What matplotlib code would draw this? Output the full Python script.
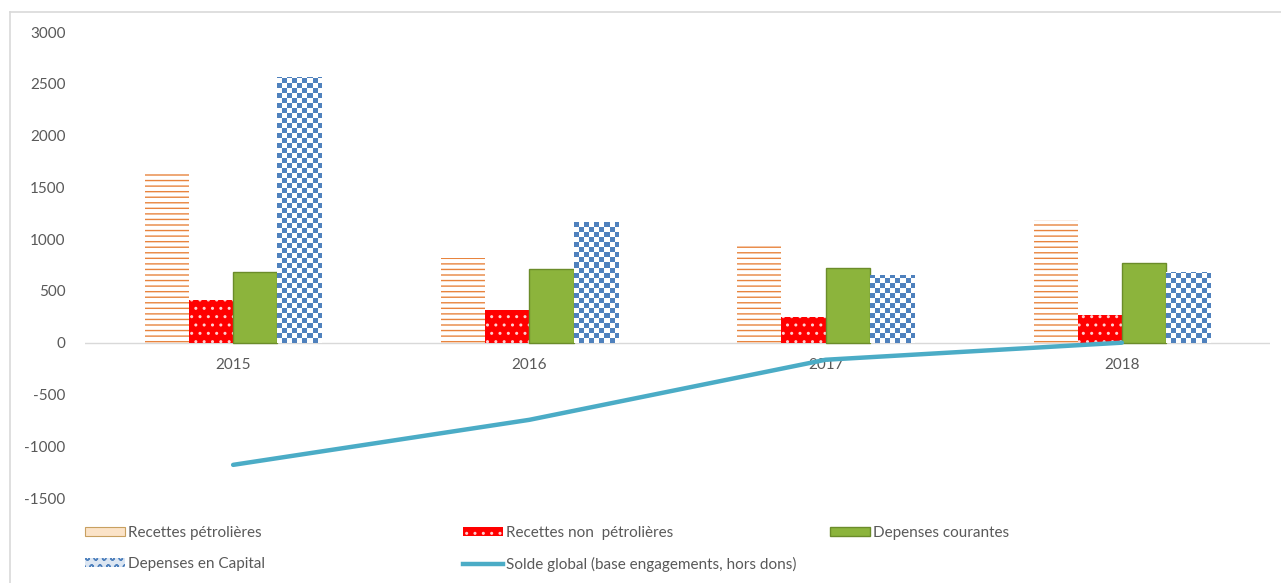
import numpy as np
import matplotlib
matplotlib.use("Agg")
import matplotlib.pyplot as plt
from matplotlib.patches import Patch
from matplotlib.lines import Line2D

plt.rcParams['font.family'] = ['Lato', 'DejaVu Sans']
plt.rcParams['hatch.linewidth'] = 1.0
plt.rcParams['axes.unicode_minus'] = False

years = ['2015', '2016', '2017', '2018']
recettes_petrol = [1660, 815, 965, 1185]
recettes_non_petrol = [415, 320, 245, 270]
depenses_courantes = [685, 715, 725, 765]
depenses_capital = [2567, 1170, 655, 685]
solde_global = [-1180, -745, -165, 0]

labels = ['Recettes pétrolières', 'Recettes non  pétrolières', 'Depenses courantes',
          'Depenses en Capital', 'Solde global (base engagements, hors dons)']

W, H = 1281, 583
fig = plt.figure(figsize=(W / 100, H / 100), dpi=100)
ax = fig.add_axes([85 / W, (H - 498) / H, (1270 - 85) / W, (498 - 32) / H])

x = np.arange(len(years))
bw = 0.149
offs = np.array([-1.5, -0.5, 0.5, 1.5]) * bw

orange = '#e8843e'
red = '#ff0000'
green = '#8cb43c'
blue = '#4f81bd'
teal = '#4bacc6'
grey = '#595959'

ax.bar(x + offs[0], recettes_petrol, bw, facecolor='white', edgecolor=orange,
       linewidth=0, hatch='---', zorder=2)
ax.bar(x + offs[1], recettes_non_petrol, bw, facecolor=red, edgecolor='#ffd0d0',
       linewidth=0, hatch='..', zorder=2)
ax.bar(x + offs[2], depenses_courantes, bw, facecolor=green, edgecolor='#6b8c2a',
       linewidth=1.0, zorder=2)
cap_bars = ax.bar(x + offs[3], depenses_capital, bw, facecolor='white', linewidth=0, zorder=2)

# checkerboard for capital bars, clipped to each bar
cell_x = 5 / 297
cell_y = 5 / 0.1036
for b in cap_bars:
    x0, y0 = b.get_x(), b.get_y()
    w, h = b.get_width(), b.get_height()
    nx = int(np.ceil(w / cell_x))
    ny = int(np.ceil(h / cell_y))
    chk = (np.add.outer(np.arange(ny), np.arange(nx)) % 2).astype(float)
    img = ax.imshow(chk, extent=(x0, x0 + nx * cell_x, y0, y0 + ny * cell_y),
                    origin='lower', cmap=matplotlib.colors.ListedColormap(['white', blue]),
                    interpolation='nearest', aspect='auto', zorder=2)
    img.set_clip_path(b)

ax.plot(x, solde_global, color=teal, linewidth=3.2, solid_capstyle='round', zorder=4)

ax.axhline(0, color='#d9d9d9', linewidth=1.0, zorder=1)
ax.set_xlim(-0.5, 3.5)
ax.set_ylim(-1500, 3000)
ax.set_yticks(np.arange(-1500, 3001, 500))
ax.set_xticks([])
ax.tick_params(axis='y', length=0, pad=14, labelsize=11, labelcolor=grey)
for s in ax.spines.values():
    s.set_visible(False)

for xi, yr in zip(x, years):
    ax.annotate(yr, (xi, 0), xytext=(0, -22), textcoords='offset pixels',
                ha='center', va='center', fontsize=11, color=grey)

# legend, one entry at a time to match the layout
handles = [
    Patch(facecolor='#fbe3c8', edgecolor='#c8a060', linewidth=0.8),
    Patch(facecolor=red, edgecolor='#ffd0d0', hatch='..', linewidth=0),
    Patch(facecolor=green, edgecolor='#6b8c2a', linewidth=1.0),
    Patch(facecolor='#dce6f2', edgecolor=blue, hatch='oo', linewidth=0),
    Line2D([], [], color=teal, linewidth=3.2),
]
pos = [(85, 533), (463, 533), (830, 533), (85, 564), (463, 564)]
for hdl, lab, (px, py) in zip(handles, labels, pos):
    fig.legend([hdl], [lab], loc='center left', bbox_to_anchor=(px / W, 1 - py / H),
               frameon=False, borderpad=0, borderaxespad=0, handlelength=2.6,
               handleheight=0.5, handletextpad=0.2, fontsize=11, labelcolor=grey)

# outer frame (top and left)
fig.add_artist(Line2D([10 / W, 10 / W], [0, 1 - 12 / H], color='#d9d9d9', linewidth=1.2))
fig.add_artist(Line2D([10 / W, 1], [1 - 12 / H, 1 - 12 / H], color='#d9d9d9', linewidth=1.2))

fig.savefig('out.png', dpi=100)
